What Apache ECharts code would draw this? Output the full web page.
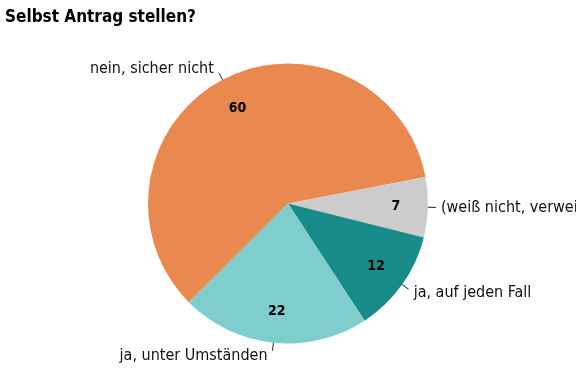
<!DOCTYPE html>
<html>
<head>
<meta charset="utf-8">
<script src="https://cdn.jsdelivr.net/npm/echarts@6/dist/echarts.min.js"></script>
<style>
html,body{margin:0;padding:0;background:#fff;}
#chart{width:576px;height:384px;}
</style>
</head>
<body>
<div id="chart"></div>
<script>
var titleText = "Selbst Antrag stellen?";
var categories = ["nein, sicher nicht", "(weiß nicht, verweigert)", "ja, auf jeden Fall", "ja, unter Umständen"];
var values = [60, 7, 12, 22];
var colors = ["#E9884F", "#CCCCCC", "#178B87", "#7FCDCD"];

var FONT = '"Liberation Sans Narrow", "Arial Narrow", "DejaVu Sans Condensed", "Liberation Sans", sans-serif';

var richStyles = ['up', 'mid', 'down', 'down2'];

var outerData = categories.map(function (c, i) {
  var d = { name: c, value: values[i], itemStyle: { color: colors[i] }, label: { formatter: '{' + richStyles[i] + '|{b}}' } };
  if (i === 1) { d.label.width = 300; d.label.overflow = 'none'; }
  return d;
});
var innerData = categories.map(function (c, i) {
  return { name: c, value: values[i] };
});

var base = { fontFamily: FONT, fontSize: 16, color: '#111' };
function rs(pad) { return Object.assign({}, base, { padding: pad }); }

var chart = echarts.init(document.getElementById('chart'), null, { renderer: 'canvas' });
chart.setOption({
  animation: false,
  backgroundColor: '#ffffff',
  title: {
    text: titleText,
    left: 0,
    top: 4,
    textStyle: { fontFamily: FONT, fontWeight: 'bold', fontSize: 17, color: '#000' }
  },
  series: [
    {
      type: 'pie',
      center: [288, 203.5],
      radius: 140,
      startAngle: 224.8,
      clockwise: true,
      data: outerData,
      label: {
        show: true,
        position: 'outside',
        fontFamily: FONT,
        fontSize: 16,
        color: '#111',
        distanceToLabelLine: 5,
        alignTo: 'none',
        rich: {
          up: rs([0, 0, 8, 0]),
          mid: rs([0, 0, 0, 0]),
          down: rs([8, 0, 0, 0]),
          down2: rs([10, 0, 0, 0])
        }
      },
      labelLine: {
        show: true,
        length: 8,
        length2: 0,
        lineStyle: { color: '#222', width: 1 }
      },
      emphasis: { disabled: true },
      avoidLabelOverlap: false
    },
    {
      type: 'pie',
      center: [288, 203.5],
      radius: [70, 140],
      startAngle: 224.8,
      clockwise: true,
      silent: true,
      data: innerData,
      itemStyle: { color: 'rgba(0,0,0,0)' },
      label: {
        show: true,
        position: 'inside',
        formatter: '{c}',
        fontFamily: FONT,
        fontWeight: 'bold',
        fontSize: 14,
        color: '#000'
      },
      labelLine: { show: false },
      emphasis: { disabled: true },
      avoidLabelOverlap: false
    }
  ]
});
</script>
</body>
</html>
